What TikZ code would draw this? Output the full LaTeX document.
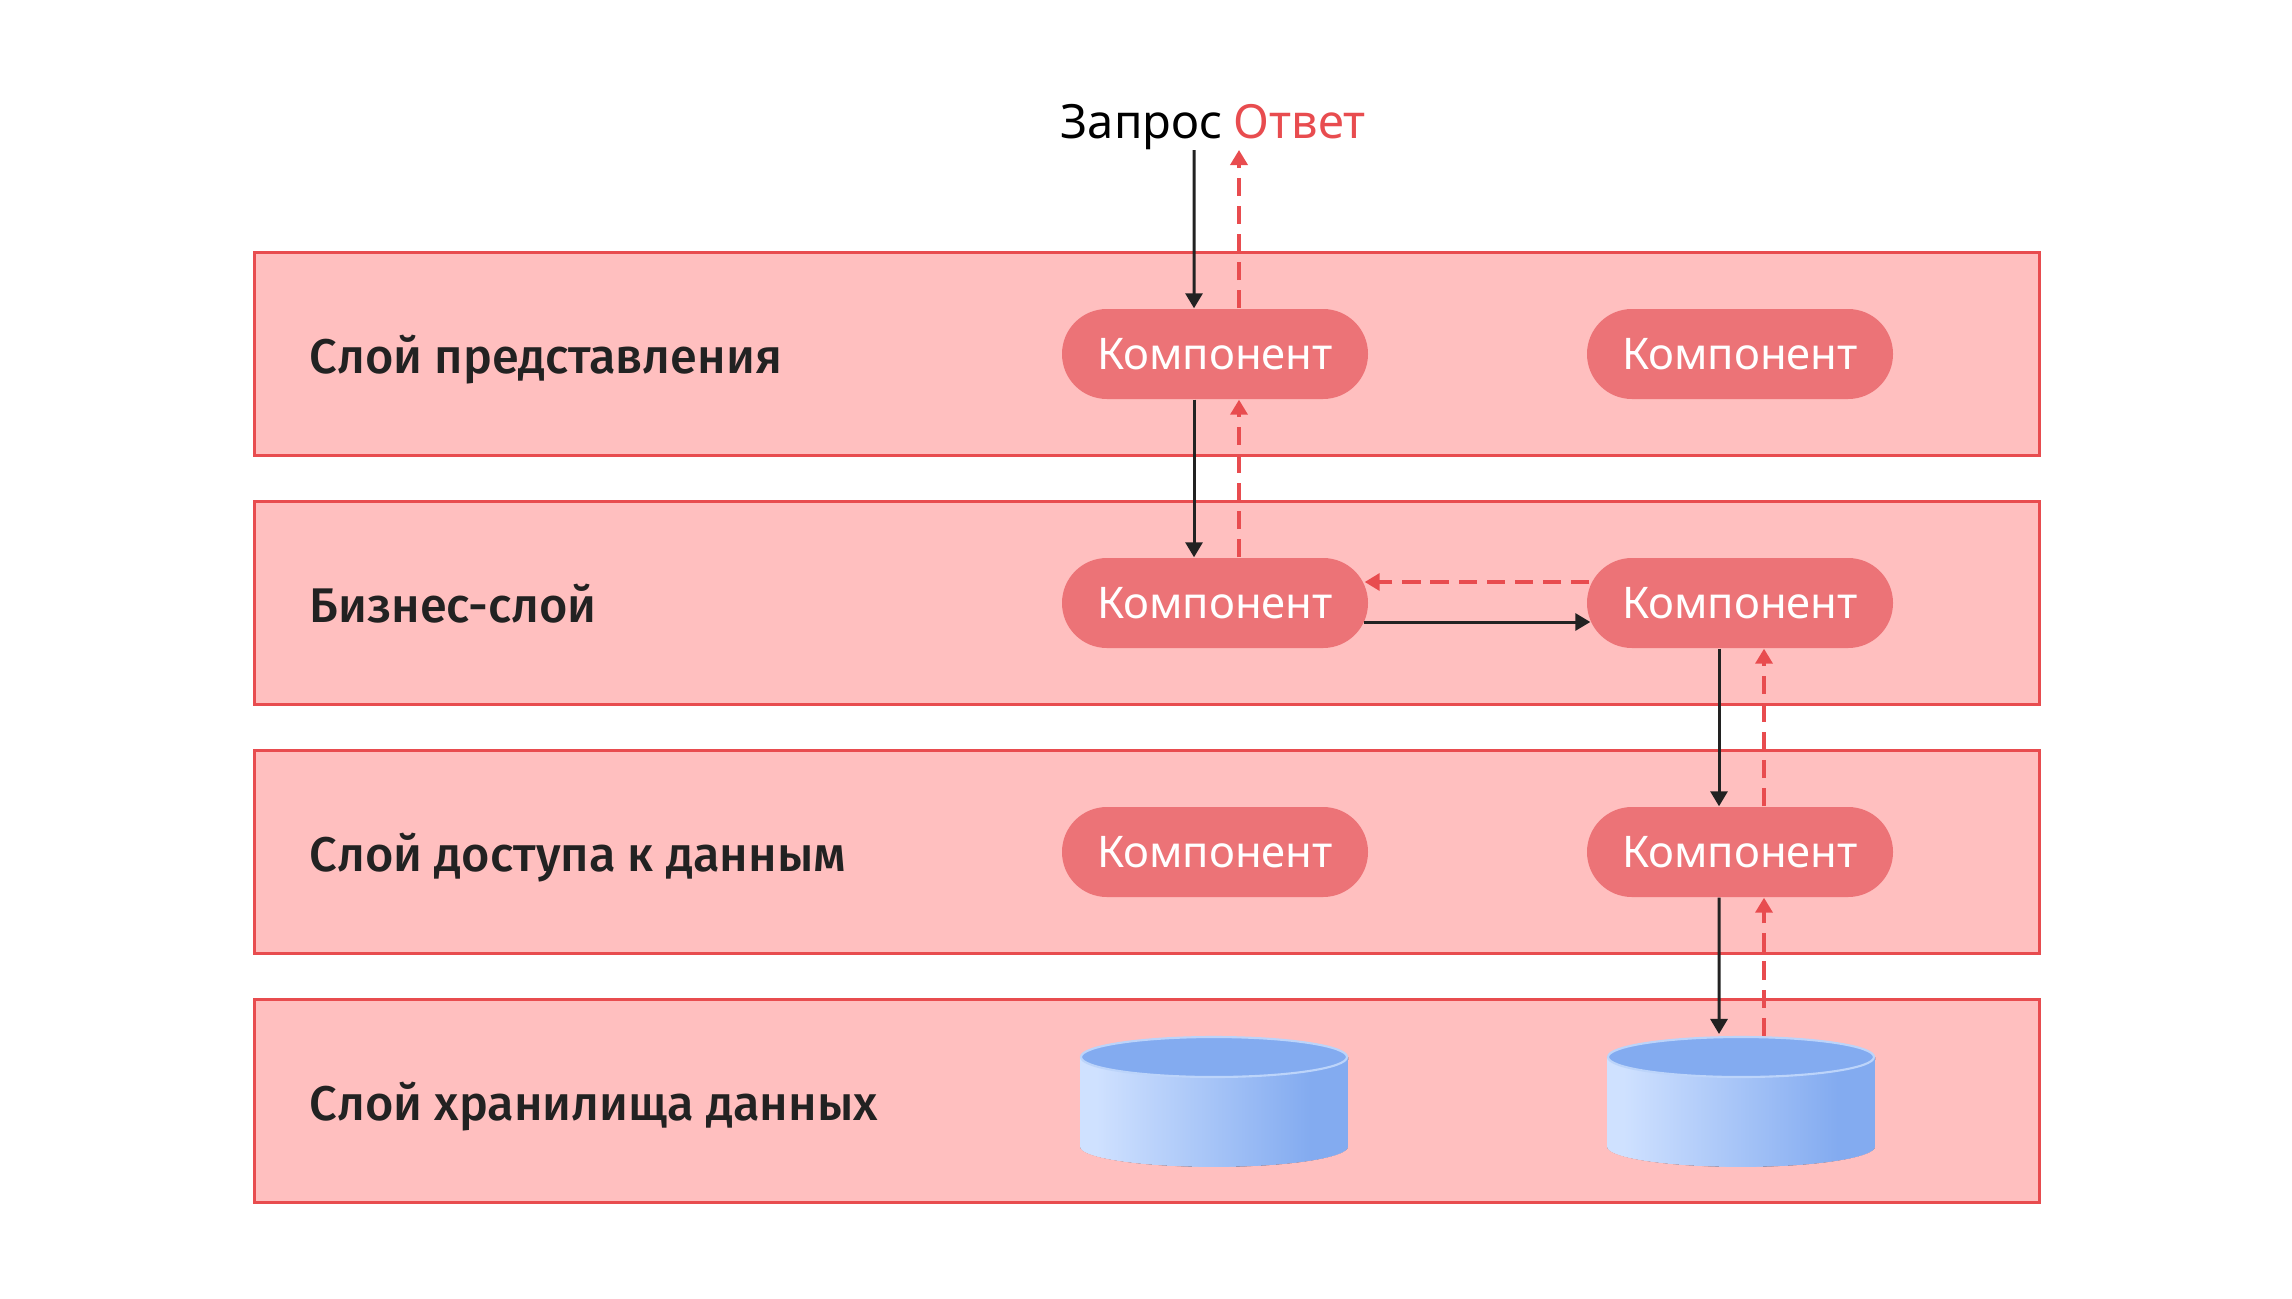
\documentclass[tikz,border=0pt]{standalone}
\usepackage{fontspec}
\setmainfont{Noto Sans}
\newfontfamily\medfont{Fira Sans Medium}
\usetikzlibrary{arrows.meta,positioning,shapes.geometric}
\definecolor{layerfill}{HTML}{FFBFBF}
\definecolor{layerred}{HTML}{E84C4F}
\definecolor{pillred}{HTML}{EC7377}
\definecolor{inkdark}{HTML}{222222}
\definecolor{dblight}{HTML}{CFE1FF}
\definecolor{dbblue}{HTML}{83ABF0}
\definecolor{dbedge}{HTML}{BCD4FA}
\pgfdeclarehorizontalshading{dbshade}{100bp}{color(0bp)=(dblight); color(28bp)=(dblight); color(68bp)=(dbblue); color(100bp)=(dbblue)}

\begin{document}
\begin{tikzpicture}
  \tikzstyle{layer}=[draw=layerred,line width=1.05pt,fill=layerfill,
    minimum width=17.85cm,minimum height=2.03cm]
  \tikzstyle{lbl}=[anchor=base west,inner sep=0pt,text=inkdark,font=\fontsize{13.85}{17}\selectfont\medfont]
  \tikzstyle{pill}=[fill=pillred,rounded corners=0.449cm,text=white,inner sep=0pt,
    minimum width=3.06cm,minimum height=0.9cm,font=\fontsize{12.4}{16}\selectfont]
  \tikzstyle{dbtop}=[ellipse,draw=dbedge,line width=0.6pt,fill=dbblue,inner sep=0pt,
    minimum width=2.66cm,minimum height=0.4cm]
  \tikzstyle{dbbody}=[shading=dbshade]
  \tikzstyle{dbrim}=[draw=layerfill,line width=0.5pt]
  \tikzstyle{f}=[-{Triangle[length=1.5mm,width=1.7mm]},inkdark,line width=0.85pt]
  \tikzstyle{g}=[-{Triangle[length=1.5mm,width=1.7mm]},layerred,line width=1pt,dash pattern=on 5.2pt off 2.8pt]

  \useasboundingbox (0,0) rectangle (22.92,-12.99);

  % -- Layers --
  \node[layer] (l1) at (11.47,-3.54) {};
  \node[layer] (l2) at (11.47,-6.03) {};
  \node[layer] (l3) at (11.47,-8.52) {};
  \node[layer] (l4) at (11.47,-11.01) {};
  \node[lbl] (t1) at (3.09,-3.73) {Слой представления};
  \node[lbl] (t2) at (3.09,-6.22) {Бизнес-слой};
  \node[lbl] (t3) at (3.09,-8.71) {Слой доступа к данным};
  \node[lbl] (t4) at (3.09,-11.20) {Слой хранилища данных};

  % -- Components --
  \node[pill] (p11) at (12.15,-3.54) {Компонент};
  \node[pill] (p12) at (17.40,-3.54) {Компонент};
  \node[pill] (p21) at (12.15,-6.03) {Компонент};
  \node[pill] (p22) at (17.40,-6.03) {Компонент};
  \node[pill] (p31) at (12.15,-8.52) {Компонент};
  \node[pill] (p32) at (17.40,-8.52) {Компонент};

  % -- Storage --
  \fill[dbbody] (10.80,-10.57) -- (13.48,-10.57) -- (13.48,-11.47)
    arc[start angle=0,end angle=-180,x radius=1.34,y radius=0.2] -- cycle;
  \draw[dbrim] (13.49,-10.6) -- (13.49,-11.47)
    arc[start angle=0,end angle=-180,x radius=1.35,y radius=0.21] -- (10.79,-10.6);
  \fill[dbbody] (16.07,-10.57) -- (18.75,-10.57) -- (18.75,-11.47)
    arc[start angle=0,end angle=-180,x radius=1.34,y radius=0.2] -- cycle;
  \draw[dbrim] (18.76,-10.6) -- (18.76,-11.47)
    arc[start angle=0,end angle=-180,x radius=1.35,y radius=0.21] -- (16.06,-10.6);
  \node[dbtop] (d1) at (12.14,-10.57) {};
  \node[dbtop] (d2) at (17.41,-10.57) {};

  % -- Request / response --
  \node[anchor=base west,inner sep=0pt,text=black,font=\fontsize{13.4}{17}\selectfont] (req) at (10.60,-1.38) {Запрос};
  \node[anchor=base west,inner sep=0pt,text=layerred,font=\fontsize{13.4}{17}\selectfont] (resp) at (12.33,-1.38) {Ответ};
  \coordinate (reqend) at (11.94,-1.50);
  \coordinate (respend) at (12.39,-1.50);

  \draw[f] (reqend) -- ([xshift=-0.21cm]p11.north);
  \draw[g] ([xshift=0.24cm]p11.north) -- (respend);
  \draw[f] ([xshift=-0.21cm]p11.south) -- ([xshift=-0.21cm]p21.north);
  \draw[g] ([xshift=0.24cm]p21.north) -- ([xshift=0.24cm]p11.south);
  \draw[f] ([xshift=-0.05cm,yshift=-0.19cm]p21.east) -- ([xshift=0.04cm,yshift=-0.19cm]p22.west);
  \draw[g] ([xshift=0.03cm,yshift=0.21cm]p22.west) -- ([xshift=-0.04cm,yshift=0.21cm]p21.east);
  \draw[f] ([xshift=-0.21cm]p22.south) -- ([xshift=-0.21cm]p32.north);
  \draw[g] ([xshift=0.24cm]p32.north) -- ([xshift=0.24cm]p22.south);
  \draw[f] ([xshift=-0.21cm]p32.south) -- ([xshift=-0.22cm,yshift=0.02cm]d2.north);
  \draw[g] ([xshift=0.23cm]d2.north) -- ([xshift=0.24cm]p32.south);
\end{tikzpicture}
\end{document}
